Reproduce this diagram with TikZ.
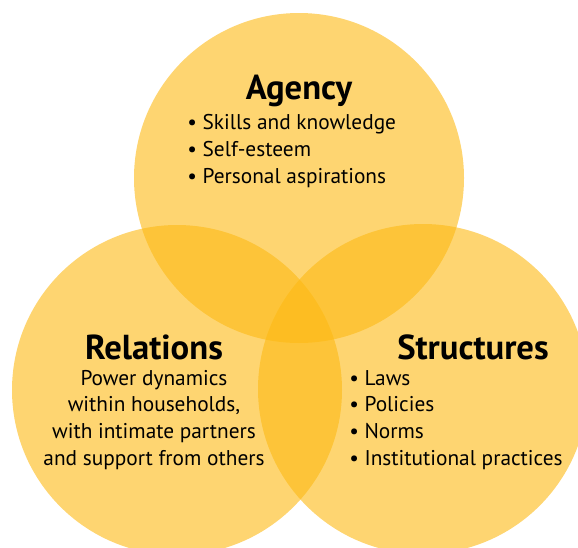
\documentclass[tikz,border=0pt]{standalone}
\usepackage{fontspec}
\setmainfont{PT Sans}
\usetikzlibrary{positioning}
\definecolor{vennyellow}{HTML}{FDB913}

\begin{document}
\begin{tikzpicture}[x=0.75pt, y=-0.75pt,
  petal/.style={circle, fill=vennyellow, fill opacity=0.6, draw=none, minimum size=247.5pt, inner sep=0pt},
  heading/.style={font=\fontsize{26}{30}\selectfont\bfseries, inner sep=0pt},
  items/.style={font=\fontsize{16}{19.9}\selectfont, inner sep=0pt}]
  \clip (0,0) rectangle (578,547);
  \node[petal] (agency) at (299,178) {};
  \node[petal] (relations) at (177,390) {};
  \node[petal] (structures) at (423,389) {};
  \node[heading, anchor=base] (agencyhead) at (299,99) {Agency};
  \node[items, anchor=base west, align=left] (agencylist) at (187,183) {\textbullet\ Skills and knowledge\\ \textbullet\ Self-esteem\\ \textbullet\ Personal aspirations};
  \node[heading, anchor=base] (relationshead) at (154,359) {Relations};
  \node[items, anchor=base, align=center] (relationstext) at (154,465) {Power dynamics\\ within households,\\ with intimate partners\\ and support from others};
  \node[heading, anchor=base] (structureshead) at (473,359) {Structures};
  \node[items, anchor=base west, align=left] (structureslist) at (349,465) {\textbullet\ Laws\\ \textbullet\ Policies\\ \textbullet\ Norms\\ \textbullet\ Institutional practices};
\end{tikzpicture}
\end{document}
